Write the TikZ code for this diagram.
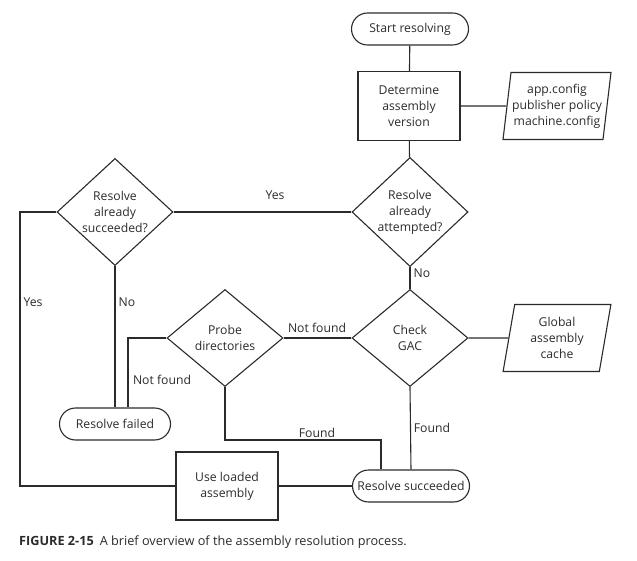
\documentclass[tikz,border=0pt]{standalone}
\usepackage{fontspec}
\setmainfont{Open Sans}
\usetikzlibrary{shapes.geometric}
\definecolor{ln}{HTML}{2B2B2B}
\definecolor{tx}{HTML}{2B2B2B}
\begin{document}
\begin{tikzpicture}[x=1pt,y=-1pt,
  every node/.style={font=\fontsize{12.2}{16}\selectfont, text=tx, align=center},
  line/.style={draw=ln, line width=1.1pt},
  term/.style={line, rectangle, rounded corners=16pt, minimum width=117pt, minimum height=32pt, inner sep=0pt},
  proc/.style={line, rectangle, minimum width=102pt, minimum height=69pt, inner sep=0pt},
  dec/.style={line, diamond, minimum width=116pt, minimum height=97pt, inner sep=0pt},
  dat/.style={line, trapezium, trapezium left angle=80, trapezium right angle=100, trapezium stretches=true, minimum width=108pt, minimum height=67pt, inner sep=0pt},
  lbl/.style={inner sep=1pt}]
\useasboundingbox (0,0) rectangle (637,561);
\node[term] (start) at (410,29) {Start resolving};
\node[proc] (det) at (409,106) {Determine\\assembly\\version};
\node[dat] (cfg) at (557,106) {app.config\\publisher policy\\machine.config};
\node[dec] (att) at (410,212) {Resolve\\already\\attempted?};
\node[dec] (suc) at (115,212) {Resolve\\already\\succeeded?};
\node[dec] (gac) at (410,338) {Check\\GAC};
\node[dec] (probe) at (225,338) {Probe\\directories};
\node[dat] (cache) at (557,338) {Global\\assembly\\cache};
\node[term, minimum width=111pt] (fail) at (115,424) {Resolve failed};
\node[term] (ok) at (411,486) {Resolve succeeded};
\node[proc, minimum height=68pt] (use) at (227,486) {Use loaded\\assembly};

\coordinate (lx) at (20,212);
\coordinate (fk) at (381,440);

\draw[line] (start) -- (det);
\draw[line] (det) -- (cfg);
\draw[line] (det) -- (att);
\draw[line] (att) -- (suc);
\draw[line] (suc.west) -- (lx) |- (use.west);
\draw[line] (suc.south) -- (fail.north);
\draw[line] (att) -- (gac);
\draw[line] (gac) -- (cache);
\draw[line] (gac) -- (probe);
\draw[line] (probe.west) -| ([xshift=13pt]fail.north);
\draw[line] (probe.south) |- (fk) -- (fk |- ok.north);
\draw[line] (gac.south) -- (ok.north);
\draw[line] (use) -- (ok);

\node[lbl] (l1) at (275,195) {Yes};
\node[lbl] (l2) at (33,302) {Yes};
\node[lbl] (l3) at (127,302) {No};
\node[lbl] (l4) at (422,273) {No};
\node[lbl] (l5) at (317,328) {Not found};
\node[lbl] (l6) at (162,380) {Not found};
\node[lbl] (l7) at (317,433) {Found};
\node[lbl] (l8) at (432,428) {Found};

\node[anchor=west, inner sep=0pt, font=\fontsize{12.7}{14}\selectfont] (cap) at (19,542) {{\bfseries FIGURE 2-15}\hspace{6pt}A brief overview of the assembly resolution process.};
\end{tikzpicture}
\end{document}
